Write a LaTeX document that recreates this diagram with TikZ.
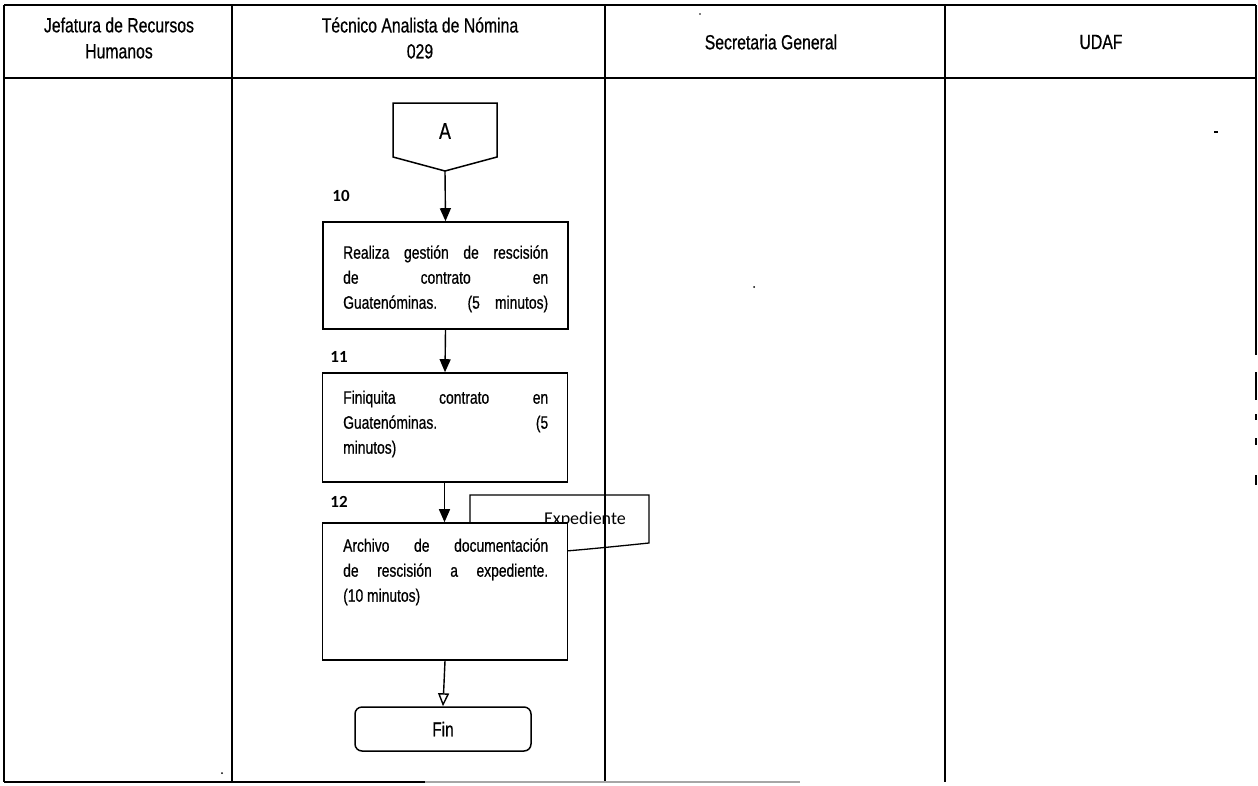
\documentclass[tikz,border=0pt]{standalone}
\usepackage{fontspec}
\setmainfont{Liberation Sans}
\newfontfamily\narfont{Liberation Sans}[FakeStretch=0.77,FakeBold=0.6]
\newfontfamily\calfont{Carlito}
\usetikzlibrary{arrows.meta}
\begin{document}
\begin{tikzpicture}[x=1pt,y=-1pt,
  frame/.style={line width=1.4pt},
  proc/.style={draw, line width=1.6pt, fill=white, minimum width=245pt, inner sep=0pt},
  flow/.style={-{Triangle[length=13pt,width=11pt]}, line width=1.4pt},
  hdr/.style={font=\narfont\fontsize{20.5}{26}\selectfont, align=center, inner sep=0pt},
  txt/.style={font=\narfont\fontsize{18}{25}\selectfont, anchor=north west, inner sep=0pt, align=left},
  num/.style={font=\calfont\bfseries\fontsize{17}{20}\selectfont, inner sep=0pt},
]
\useasboundingbox (0,0) rectangle (1258,785);
\fill[white] (0,0) rectangle (1258,785);

% header texts
\node[hdr] (h1) at (119,38) {Jefatura de Recursos\\Humanos};
\node[hdr] (h2) at (420,38) {Técnico Analista de Nómina\\029};
\node[hdr] (h3) at (771,42) {Secretaria General};
\node[hdr] (h4) at (1101,42) {UDAF};

% Expediente document (behind box 12)
\draw[line width=1.3pt] (470,523) -- (470,495) -- (649,495) -- (649,543)
   .. controls (620,546) and (590,549) .. (566,551);
\node[font=\calfont\fontsize{18}{20}\selectfont, inner sep=0pt] (exp) at (585,520) {Expediente};

% off-page connector A
\draw[line width=1.5pt, fill=white] (393,103) -- (497,103) -- (497,157) -- (445,171) -- (393,157) -- cycle;
\node[font=\narfont\fontsize{23}{24}\selectfont, inner sep=0pt] (A) at (445,131) {A};
\coordinate (Atip) at (445,171);

% process boxes
\node[proc, minimum height=107pt] (b10) at (445.5,275.5) {};
\node[proc, minimum height=109pt] (b11) at (445,427.5) {};
\node[proc, minimum height=137pt] (b12) at (445,591.5) {};
\node[draw, line width=1.5pt, rounded corners=7pt, minimum width=176pt, minimum height=44pt,
      font=\narfont\fontsize{20}{22}\selectfont] (fin) at (443,729) {Fin};

% step numbers
\node[num] (n10) at (341,196) {10};
\node[num] (n11) at (339,357) {11};
\node[num] (n12) at (339,502) {12};

% box texts
\node[txt] (t10) at (343,241) {\makebox[205pt][s]{\strut Realiza gestión de rescisión}\\
  \makebox[205pt][s]{de contrato en}\\
  \makebox[205pt][s]{Guatenóminas.\ \ (5 minutos)}};
\node[txt] (t11) at (343,386) {\makebox[205pt][s]{\strut Finiquita contrato en}\\
  \makebox[205pt][s]{Guatenóminas. (5}\\
  minutos)};
\node[txt] (t12) at (343,534) {\makebox[205pt][s]{\strut Archivo de documentación}\\
  \makebox[205pt][s]{de rescisión a expediente.}\\
  (10 minutos)};

% connectors
\draw[flow] (Atip) -- (b10.north);
\draw[flow] (b10.south) -- (b11.north);
\draw[flow] ([xshift=-0.5pt]b11.south) -- ([xshift=-0.5pt]b12.north);
\draw[-{Triangle[open,length=13pt,width=11pt]}, line width=1.4pt] (b12.south) -- (fin.north);

% frame
\draw[frame] (4,5) -- (1256,5);
\draw[frame] (4,78) -- (1256,78);
\draw[frame] (4,5) -- (4,782);
\draw[frame] (232,5) -- (232,782);
\draw[frame] (605,5) -- (605,782);
\draw[frame] (945,5) -- (945,782);
\draw[frame] (1256,5) -- (1256,355);
\draw[frame] (1256,372) -- (1256,400);
\draw[frame] (1256,414) -- (1256,420);
\draw[frame] (1256,438) -- (1256,445);
\draw[frame] (1256,475) -- (1256,485);
\draw[frame] (4,782) -- (425,782);
\draw[line width=1.4pt, black!35] (425,782) -- (800,782);

% specks
\fill (222,773) circle (1pt);
\fill (754,287) circle (1pt);
\fill (1214,131) rectangle (1218,132.5);
\fill (700,14) circle (0.8pt);
\end{tikzpicture}
\end{document}
